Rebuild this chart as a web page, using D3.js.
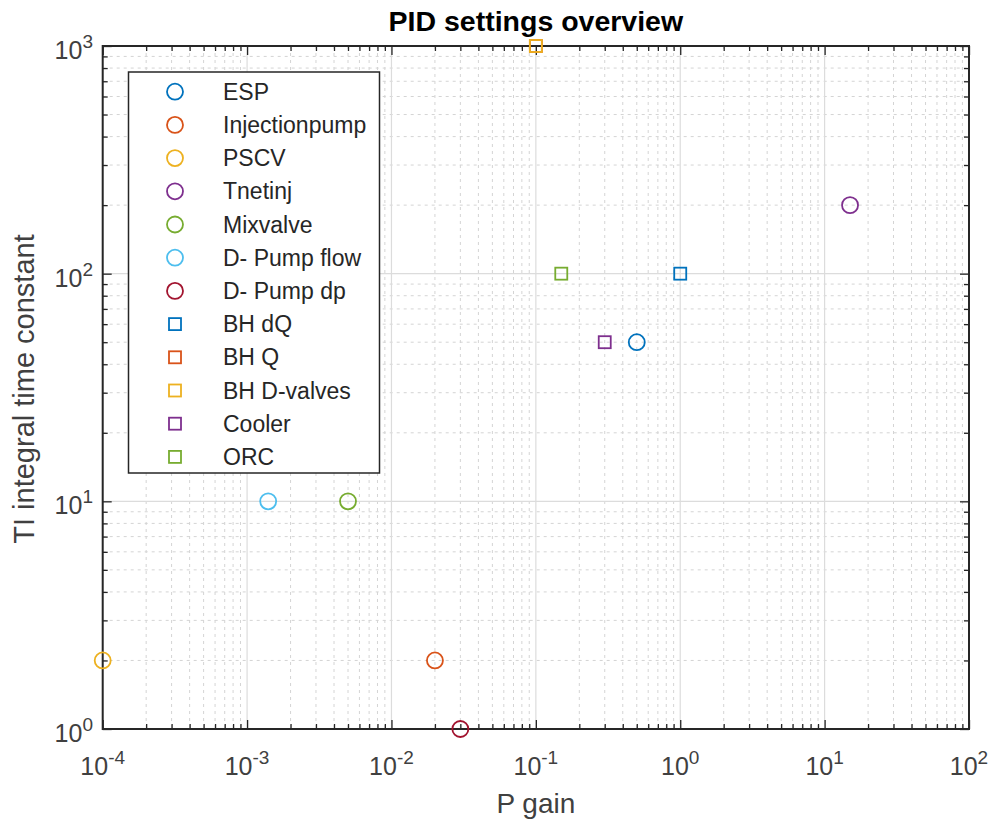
<!DOCTYPE html>
<html>
<head>
<meta charset="utf-8">
<script src="https://cdn.jsdelivr.net/npm/d3@7"></script>
<style>
  html, body { margin: 0; padding: 0; background: #fff; }
  svg { display: block; font-family: "Liberation Sans", Arial, Helvetica, sans-serif; }
</style>
</head>
<body>
<svg id="chart" width="993" height="823"></svg>
<script>
// PID controller settings: proportional gain vs integral time constant
const names   = ["ESP", "Injectionpump", "PSCV", "Tnetinj", "Mixvalve", "D- Pump flow", "D- Pump dp",
                 "BH dQ", "BH Q", "BH D-valves", "Cooler", "ORC"];
const pGain   = [0.5, 0.02, 0.0001, 15, 0.005, 0.0014, 0.03, 1, 0.1, 0.1, 0.3, 0.15];
const tiConst = [50, 2, 2, 200, 10, 10, 1, 100, 1000, 1000, 50, 100];
const shapes  = ["circle", "circle", "circle", "circle", "circle", "circle", "circle",
                 "square", "square", "square", "square", "square"];
const palette = ["#0072BD", "#D95319", "#EDB120", "#7E2F8E", "#77AC30", "#4DBEEE", "#A2142F"];

const xDecades = [-4, -3, -2, -1, 0, 1, 2];
const yDecades = [0, 1, 2, 3];

const m = { left: 102.7, right: 969, top: 46, bottom: 729 };

const svg = d3.select("#chart");

const x = d3.scaleLog().domain([1e-4, 1e2]).range([m.left, m.right]);
const y = d3.scaleLog().domain([1, 1e3]).range([m.bottom, m.top]);

const axisColor = "#262626";
const textColor = "#404040";

// minor values for each decade
const minorX = [], minorY = [];
for (let e = -4; e < 2; e++) for (let k = 2; k <= 9; k++) minorX.push(k * Math.pow(10, e));
for (let e = 0; e < 3; e++) for (let k = 2; k <= 9; k++) minorY.push(k * Math.pow(10, e));
const majorX = xDecades.map(e => Math.pow(10, e));
const majorY = yDecades.map(e => Math.pow(10, e));

const grid = svg.append("g");
// minor grid (dotted)
grid.selectAll(".mgx").data(minorX).join("line")
  .attr("x1", d => x(d)).attr("x2", d => x(d))
  .attr("y1", m.top).attr("y2", m.bottom)
  .attr("stroke", "#d4d4d4").attr("stroke-width", 1).attr("stroke-dasharray", "3,4");
grid.selectAll(".mgy").data(minorY).join("line")
  .attr("y1", d => y(d)).attr("y2", d => y(d))
  .attr("x1", m.left).attr("x2", m.right)
  .attr("stroke", "#d4d4d4").attr("stroke-width", 1).attr("stroke-dasharray", "3,4");
// major grid (solid)
grid.selectAll(".Mgx").data(majorX).join("line")
  .attr("x1", d => x(d)).attr("x2", d => x(d))
  .attr("y1", m.top).attr("y2", m.bottom)
  .attr("stroke", "#dcdcdc").attr("stroke-width", 1.2);
grid.selectAll(".Mgy").data(majorY).join("line")
  .attr("y1", d => y(d)).attr("y2", d => y(d))
  .attr("x1", m.left).attr("x2", m.right)
  .attr("stroke", "#dcdcdc").attr("stroke-width", 1.2);

// axes: D3 axes with inward ticks on all four sides
function styleAxis(g) {
  g.select(".domain").remove();
  g.selectAll(".tick line").attr("stroke", axisColor).attr("stroke-width", 1.3);
  g.selectAll("text").remove();
}
const majLen = 9, minLen = 5;
svg.append("g").attr("transform", `translate(0,${m.bottom})`)
  .call(d3.axisBottom(x).tickValues(majorX).tickSize(-majLen)).call(styleAxis);
svg.append("g").attr("transform", `translate(0,${m.bottom})`)
  .call(d3.axisBottom(x).tickValues(minorX).tickSize(-minLen)).call(styleAxis);
svg.append("g").attr("transform", `translate(0,${m.top})`)
  .call(d3.axisTop(x).tickValues(majorX).tickSize(-majLen)).call(styleAxis);
svg.append("g").attr("transform", `translate(0,${m.top})`)
  .call(d3.axisTop(x).tickValues(minorX).tickSize(-minLen)).call(styleAxis);
svg.append("g").attr("transform", `translate(${m.left},0)`)
  .call(d3.axisLeft(y).tickValues(majorY).tickSize(-majLen)).call(styleAxis);
svg.append("g").attr("transform", `translate(${m.left},0)`)
  .call(d3.axisLeft(y).tickValues(minorY).tickSize(-minLen)).call(styleAxis);
svg.append("g").attr("transform", `translate(${m.right},0)`)
  .call(d3.axisRight(y).tickValues(majorY).tickSize(-majLen)).call(styleAxis);
svg.append("g").attr("transform", `translate(${m.right},0)`)
  .call(d3.axisRight(y).tickValues(minorY).tickSize(-minLen)).call(styleAxis);

// box
svg.append("rect")
  .attr("x", m.left).attr("y", m.top)
  .attr("width", m.right - m.left).attr("height", m.bottom - m.top)
  .attr("fill", "none").attr("stroke", axisColor).attr("stroke-width", 2);

// tick labels as 10 with superscript exponent
const xl = svg.append("g").selectAll("text").data(xDecades).join("text")
  .attr("x", d => x(Math.pow(10, d)))
  .attr("y", 775)
  .attr("text-anchor", "middle")
  .attr("fill", textColor)
  .attr("font-size", 25);
xl.append("tspan").text("10");
xl.append("tspan").attr("dy", -11).attr("font-size", 19).text(d => d);

const yl = svg.append("g").selectAll("text").data(yDecades).join("text")
  .attr("x", 93)
  .attr("y", d => y(Math.pow(10, d)) + 13)
  .attr("text-anchor", "end")
  .attr("fill", textColor)
  .attr("font-size", 25);
yl.append("tspan").text("10");
yl.append("tspan").attr("dy", -11).attr("font-size", 19).text(d => d);

// axis labels and title
svg.append("text").attr("x", (m.left + m.right) / 2).attr("y", 813)
  .attr("text-anchor", "middle").attr("font-size", 28).attr("fill", textColor).text("P gain");
svg.append("text")
  .attr("transform", `translate(34,389) rotate(-90)`)
  .attr("text-anchor", "middle").attr("font-size", 29).attr("fill", textColor)
  .text("TI integral time constant");
svg.append("text").attr("x", (m.left + m.right) / 2).attr("y", 31)
  .attr("text-anchor", "middle").attr("font-size", 28.5).attr("font-weight", "bold")
  .attr("fill", "#000").text("PID settings overview");

// data markers
const pts = names.map((n, i) => ({ name: n, p: pGain[i], ti: tiConst[i], shape: shapes[i],
  color: palette[i % palette.length] }));

function drawMarker(sel) {
  sel.each(function(d) {
    const g = d3.select(this);
    if (d.shape === "circle") {
      g.append("circle").attr("r", 8).attr("fill", "none")
        .attr("stroke", d.color).attr("stroke-width", 1.8);
    } else {
      g.append("rect").attr("x", -6).attr("y", -6).attr("width", 12).attr("height", 12)
        .attr("fill", "none").attr("stroke", d.color).attr("stroke-width", 1.8);
    }
  });
}

svg.append("g").selectAll("g").data(pts).join("g")
  .attr("transform", d => `translate(${x(d.p)},${y(d.ti)})`)
  .call(drawMarker);

// legend
const lg = svg.append("g");
lg.append("rect").attr("x", 128.5).attr("y", 72).attr("width", 251).attr("height", 401)
  .attr("fill", "#fff").attr("stroke", axisColor).attr("stroke-width", 1.5);
const rowH = 33.2;
const rows = lg.selectAll(".row").data(pts).join("g")
  .attr("transform", (d, i) => `translate(175,${91.7 + i * rowH})`);
rows.call(drawMarker);
rows.append("text").attr("x", 48).attr("y", 8)
  .attr("font-size", 23).attr("fill", "#262626").text(d => d.name);
</script>
</body>
</html>
